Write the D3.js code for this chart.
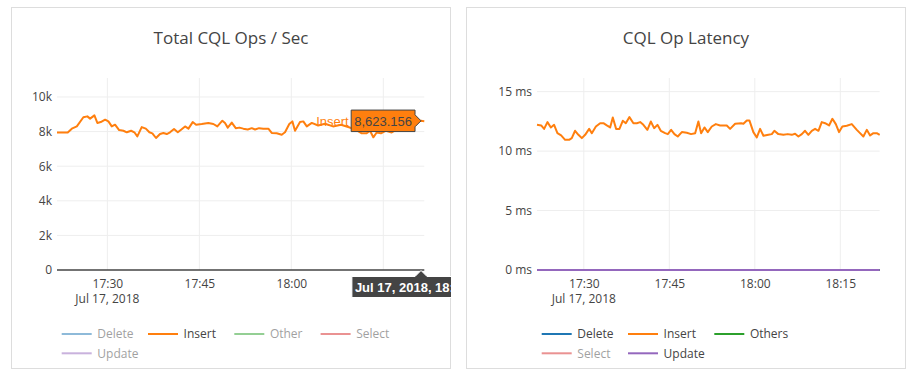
<!DOCTYPE html>
<html><head><meta charset="utf-8">
<script src="https://cdn.jsdelivr.net/npm/d3@7"></script>
<style>body{margin:0;background:#fff}svg{display:block}</style>
</head><body>
<svg id="c" width="914" height="379"></svg>
<script>
// ---------- DATA ----------
const DAY = "2018-07-17";
const opsTicks = [0, 2000, 4000, 6000, 8000, 10000];
const opsTickLabels = ["0", "2k", "4k", "6k", "8k", "10k"];
const latTicks = [0, 5, 10, 15];
const latTickLabels = ["0 ms", "5 ms", "10 ms", "15 ms"];
const timeTicks = ["17:30:00", "17:45:00", "18:00:00", "18:15:00"];
const timeTickLabels = ["17:30", "17:45", "18:00", "18:15"];
const opsSeriesNames = ["Delete", "Insert", "Other", "Select", "Update"];
const latSeriesNames = ["Delete", "Insert", "Others", "Select", "Update"];

const insertOps = [
["17:21:47",7950],["17:23:32",7950],["17:24:12",8170],["17:25:01",8300],["17:26:05",8830],
["17:26:44",8880],["17:27:11",8750],["17:27:53",8940],["17:28:22",8500],["17:28:55",8550],
["17:29:38",8690],["17:30:10",8590],["17:30:43",8300],["17:31:15",8400],["17:31:55",8090],
["17:32:37",8050],["17:33:10",7960],["17:33:52",8050],["17:34:24",7960],["17:34:53",7720],
["17:35:36",8260],["17:36:16",8170],["17:36:51",7960],["17:37:20",7900],["17:37:56",7630],
["17:38:35",7860],["17:39:08",7920],["17:39:41",7860],["17:40:13",7960],["17:40:52",8150],
["17:41:29",7960],["17:42:01",8110],["17:42:40",8300],["17:43:13",8170],["17:43:55",8550],
["17:44:28",8400],["17:45:23",8440],["17:46:28",8500],["17:47:17",8440],["17:47:56",8300],
["17:48:45",8630],["17:49:11",8500],["17:49:38",8230],["17:50:17",8520],["17:50:56",8200],
["17:51:31",8230],["17:52:10",8170],["17:52:53",8120],["17:53:33",8200],["17:54:05",8120],
["17:54:44",8200],["17:55:26",8170],["17:56:15",8170],["17:56:48",7920],["17:57:37",7900],
["17:58:26",7820],["17:58:58",7960],["17:59:40",8440],["18:00:10",8590],["18:00:36",8050],
["18:01:25",8550],["18:01:57",8590],["18:02:31",8300],["18:03:20",8500],["18:04:22",8350],
["18:05:30",8450],["18:06:48",8300],["18:08:06",8400],["18:09:24",8250],["18:10:33",8100],
["18:11:29",7900],["18:12:17",7900],["18:12:50",8050],["18:13:22",7670],["18:13:55",7950],
["18:14:37",7900],["18:15:26",8050],["18:16:22",7950],["18:17:04",8100],["18:18:10",8300],
["18:19:20",8450],["18:20:26",8580],["18:21:09",8623.156],["18:21:41",8600]
];
const hoverTime = "18:21:09";
const hoverValue = 8623.156;

const insertLatency = [
["17:21:47",12.21],["17:22:31",12.16],["17:23:02",11.87],["17:23:37",12.44],["17:24:13",11.99],
["17:24:47",12.21],["17:25:22",11.51],["17:26:01",11.32],["17:26:43",10.95],["17:27:25",10.95],
["17:27:53",11.09],["17:28:28",11.71],["17:29:03",11.37],["17:29:39",11.09],["17:30:14",11.37],
["17:30:56",11.87],["17:31:24",11.51],["17:32:07",12.07],["17:32:52",12.35],["17:33:26",12.35],
["17:34:02",12.16],["17:34:37",11.99],["17:35:05",12.83],["17:35:40",11.87],["17:36:15",11.87],
["17:36:50",12.55],["17:37:22",12.35],["17:38:00",12.86],["17:38:42",12.35],["17:39:18",12.35],
["17:39:53",12.44],["17:40:27",12.21],["17:41:09",11.79],["17:41:45",12.49],["17:42:20",11.93],
["17:42:55",12.21],["17:43:30",11.71],["17:44:16",11.51],["17:44:44",11.43],["17:45:19",11.79],
["17:45:54",11.43],["17:46:29",11.23],["17:47:12",11.60],["17:48:04",11.54],["17:48:49",11.43],
["17:49:32",11.51],["17:50:06",12.49],["17:50:35",11.51],["17:51:10",11.99],["17:51:45",11.60],
["17:52:27",12.07],["17:53:10",12.27],["17:53:55",12.16],["17:55:05",12.16],["17:55:40",11.87],
["17:56:33",12.30],["17:57:36",12.35],["17:58:00",12.30],["17:58:36",12.58],["17:59:03",12.58],
["17:59:45",11.60],["18:00:21",11.15],["18:00:56",11.87],["18:01:31",11.29],["18:02:23",11.37],
["18:02:59",11.43],["18:03:26",11.71],["18:04:08",11.43],["18:05:01",11.37],["18:05:47",11.43],
["18:06:29",11.37],["18:07:04",11.46],["18:07:39",11.23],["18:08:15",11.43],["18:08:49",11.71],
["18:09:24",11.37],["18:10:00",11.71],["18:10:35",11.87],["18:11:10",11.71],["18:11:45",12.44],
["18:12:20",12.35],["18:13:02",12.16],["18:13:37",12.72],["18:14:13",12.27],["18:14:47",11.60],
["18:15:22",12.07],["18:16:08",12.13],["18:17:01",12.27],["18:17:54",11.79],["18:18:28",11.51],
["18:19:03",11.23],["18:19:39",11.79],["18:20:14",11.32],["18:20:49",11.51],["18:21:24",11.51],
["18:21:55",11.37]
];
const deleteLatency = [["17:21:47",0],["18:21:55",0]];
const othersLatency = [["17:21:47",0],["18:21:55",0]];
const updateLatency = [["17:21:47",0],["18:21:55",0]];

// ---------- RENDER ----------
const parse = d3.timeParse("%Y-%m-%d %H:%M:%S");
const T = s => parse(DAY + " " + s);
const colors = {Delete:"#1f77b4", Insert:"#ff7f0e", Other:"#2ca02c", Others:"#2ca02c", Select:"#d62728", Update:"#9467bd"};
const FONT = "'Open Sans', sans-serif";
const svg = d3.select("#c");

function panel(cfg) {
  const g = svg.append("g");
  const clipId = "clip" + cfg.id;
  svg.append("defs").append("clipPath").attr("id", clipId)
    .append("rect").attr("x", cfg.px).attr("y", cfg.py).attr("width", cfg.pw).attr("height", cfg.ph);
  const root = g.attr("clip-path", `url(#${clipId})`);
  root.append("rect").attr("x", cfg.px + 0.5).attr("y", cfg.py + 0.5)
    .attr("width", cfg.pw - 1).attr("height", cfg.ph - 1)
    .attr("fill", "#fff").attr("stroke", "#ddd");
  root.append("text").attr("x", cfg.px + cfg.pw / 2).attr("y", 44)
    .attr("text-anchor", "middle").attr("font-family", FONT).attr("font-size", 17)
    .attr("fill", "#444").text(cfg.title);

  const x = d3.scaleTime().domain([T(cfg.x0), T(cfg.x1)]).range([cfg.l, cfg.r]);
  const y = d3.scaleLinear().domain([0, cfg.ymax]).range([270, 78]);

  // grid
  const grid = root.append("g");
  grid.selectAll(".vg").data(timeTicks).join("line")
    .attr("x1", d => x(T(d))).attr("x2", d => x(T(d)))
    .attr("y1", 78).attr("y2", 270).attr("stroke", "#eee");
  grid.selectAll(".hg").data(cfg.yTicks.filter(v => v > 0)).join("line")
    .attr("x1", cfg.l).attr("x2", cfg.r)
    .attr("y1", d => y(d)).attr("y2", d => y(d)).attr("stroke", "#eee");

  // y axis labels
  const ya = root.append("g").attr("transform", `translate(${cfg.l},0)`)
    .call(d3.axisLeft(y).tickValues(cfg.yTicks).tickSize(0).tickPadding(5)
      .tickFormat((d, i) => cfg.yLabels[i]));
  ya.select(".domain").remove();
  ya.selectAll("text").attr("font-family", FONT).attr("font-size", 12).attr("fill", "#444");

  // x axis labels (labels hidden behind the hover label are not drawn)
  const shown = timeTicks.slice(0, cfg.xLabelCount);
  const xa = root.append("g").attr("transform", `translate(0,270)`)
    .call(d3.axisBottom(x).tickValues(shown.map(T)).tickSize(0).tickPadding(9)
      .tickFormat((d, i) => timeTickLabels[i]));
  xa.select(".domain").remove();
  xa.selectAll("text").attr("font-family", FONT).attr("font-size", 12).attr("fill", "#444");
  root.append("text").attr("x", x(T(timeTicks[0]))).attr("y", 303)
    .attr("text-anchor", "middle").attr("font-family", FONT).attr("font-size", 12)
    .attr("fill", "#444").text("Jul 17, 2018");

  // zero line
  root.append("line").attr("x1", cfg.l).attr("x2", cfg.r).attr("y1", y(0)).attr("y2", y(0))
    .attr("stroke", "#444").attr("stroke-width", 1.5);

  const line = d3.line().x(d => x(T(d[0]))).y(d => y(d[1]));
  cfg.series.forEach(s => {
    if (!s.visible || !s.data) return;
    root.append("path").datum(s.data).attr("d", line).attr("fill", "none")
      .attr("stroke", colors[s.name]).attr("stroke-width", 2).attr("stroke-linejoin", "round");
  });

  // legend
  const lg = root.append("g");
  cfg.series.forEach((s, i) => {
    const col = i % cfg.perRow;
    const row = Math.floor(i / cfg.perRow);
    const lx = cfg.l + 4.7 + col * 86.3, ly = 334 + row * 19.3;
    const it = lg.append("g").attr("opacity", s.visible ? 1 : 0.5);
    it.append("line").attr("x1", lx).attr("x2", lx + 30).attr("y1", ly).attr("y2", ly)
      .attr("stroke", colors[s.name]).attr("stroke-width", 2);
    it.append("text").attr("x", lx + 35.6).attr("y", ly + 4.3)
      .attr("font-family", FONT).attr("font-size", 12).attr("fill", "#444").text(s.name);
  });
  return {root, x, y};
}

const left = panel({
  id: "L", px: 11, py: 7, pw: 440, ph: 362, title: "Total CQL Ops / Sec",
  l: 57, r: 424.3, x0: "17:21:47", x1: "18:21:41", ymax: 11098,
  yTicks: opsTicks, yLabels: opsTickLabels, perRow: 4, xLabelCount: 3,
  series: [
    {name: "Delete", visible: false},
    {name: "Insert", visible: true, data: insertOps},
    {name: "Other", visible: false},
    {name: "Select", visible: false},
    {name: "Update", visible: false}
  ]
});

panel({
  id: "R", px: 466, py: 7, pw: 440, ph: 362, title: "CQL Op Latency",
  l: 537, r: 879.7, x0: "17:21:47", x1: "18:21:55", ymax: 16.15,
  yTicks: latTicks, yLabels: latTickLabels, perRow: 3, xLabelCount: 4,
  series: [
    {name: "Delete", visible: true, data: deleteLatency},
    {name: "Insert", visible: true, data: insertLatency},
    {name: "Others", visible: true, data: othersLatency},
    {name: "Select", visible: false},
    {name: "Update", visible: true, data: updateLatency}
  ]
});

// hover labels on left panel
(function () {
  const {root, x, y} = left;
  const px = x(T(hoverTime)), py = y(hoverValue);
  const hg = root.append("g");
  const label = d3.format(",.3f")(hoverValue);
  const t = hg.append("text").attr("font-family", "Arial, 'Liberation Sans', sans-serif")
    .attr("font-size", 13).attr("fill", "#444").text(label);
  const tw = t.node().getComputedTextLength();
  const bw = tw + 6, bh = 21.5;
  const br = px - 6, bl = br - bw;
  hg.insert("path", "text").attr("d",
    `M${px},${py} L${br},${py - 6} V${py - bh / 2} H${bl} V${py + bh / 2} H${br} V${py + 6} Z`)
    .attr("fill", "#ff7f0e").attr("stroke", "#444").attr("stroke-width", 1);
  t.attr("x", bl + 3).attr("y", py + 4.7);
  hg.append("text").attr("x", bl - 2.5).attr("y", py + 4.7).attr("text-anchor", "end")
    .attr("font-family", "Arial, 'Liberation Sans', sans-serif").attr("font-size", 13)
    .attr("fill", "#ff7f0e").text("Insert");

  // time label
  const tg = root.append("g");
  const tt = tg.append("text").attr("font-family", "Arial, 'Liberation Sans', sans-serif")
    .attr("font-size", 13).attr("font-weight", "bold").attr("fill", "#fff")
    .text("Jul 17, 2018, " + hoverTime);
  const ttw = tt.node().getComputedTextLength();
  const w2 = ttw + 6, top = 276.5, bot = 297.5, ay = 270.5;
  tg.insert("path", "text").attr("d",
    `M${px},${ay} L${px + 6},${top} H${px + w2 / 2} V${bot} H${px - w2 / 2} V${top} H${px - 6} Z`)
    .attr("fill", "#444").attr("stroke", "#fff").attr("stroke-width", 1);
  tt.attr("x", px - ttw / 2).attr("y", top + 15);
})();
</script>
</body></html>
